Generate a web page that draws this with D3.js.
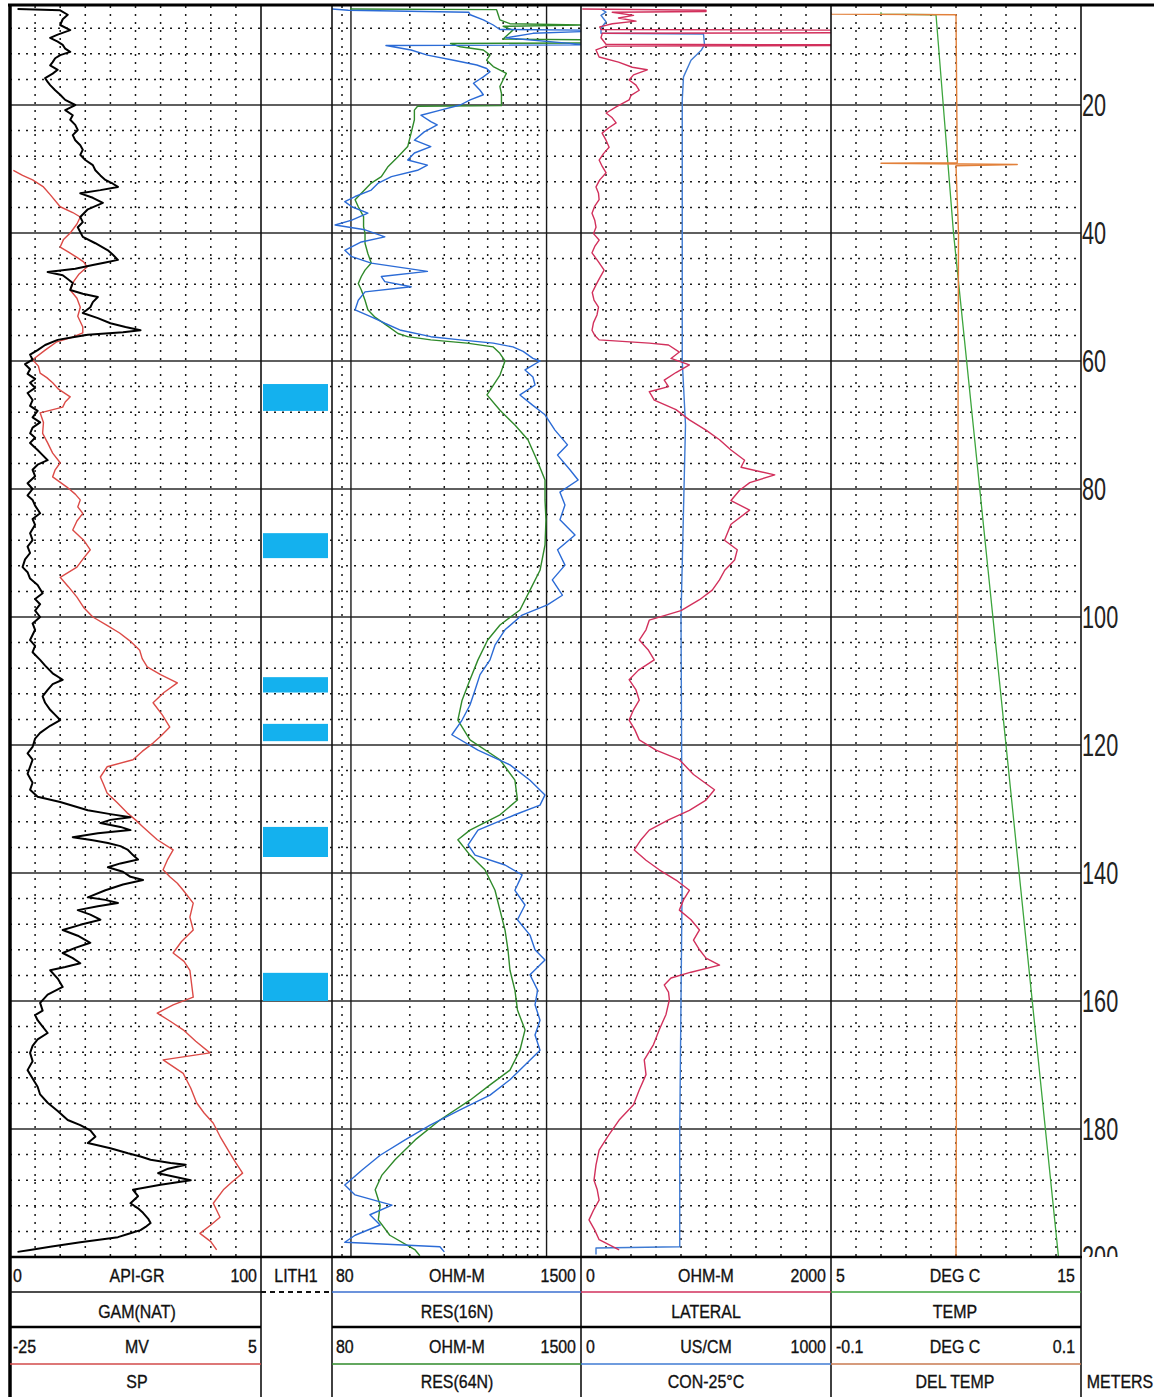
<!DOCTYPE html>
<html><head><meta charset="utf-8">
<script src="https://cdn.jsdelivr.net/npm/d3@7"></script>
<style>body{margin:0;background:#fff}svg{display:block}</style>
</head><body><svg id="c" width="1154" height="1397"></svg>
<script>
// ---------------- DATA ----------------
const depthLabels = [20,40,60,80,100,120,140,160,180,200];
const lithIntervals = [[63.6,67.8],[86.9,90.8],[109.4,111.8],[116.7,119.4],[132.8,137.5],[155.6,160.0]];

const grData = [[5.0,3],[5.2,20],[5.9,23],[6.6,21],[7.5,20],[8.3,24],[9.0,19],[9.5,16],[10.1,19],[10.6,21],[11.2,22],[11.7,24],[12.2,20],[12.7,18],[13.3,17],[13.8,16],[14.5,19],[15.1,17],[15.8,14],[16.4,15],[16.9,16],[17.7,18],[18.4,20],[19.2,22],[20,26],[20.4,24],[20.8,22],[21.6,25],[22.3,24],[23.1,26],[23.9,27],[24.7,25],[25.5,26],[26.3,28],[27,29],[27.8,28],[28.6,30],[29.4,33],[30.2,34],[31.0,36],[31.7,38],[32.3,41],[32.8,43],[33.3,36],[33.8,28],[34.5,33],[35.3,37],[36.3,31],[37.5,28],[38.3,29],[39.1,27],[40.6,29],[41.6,34],[42.7,39],[43.4,41],[44.2,43],[44.6,38],[45,33],[45.6,26],[46.1,15],[46.6,21],[47.2,23],[47.8,25],[48.9,24],[49.5,29],[50,35],[50.8,33],[51.6,32],[52.5,29],[53.3,35],[54.1,40],[54.7,46],[55.2,52],[55.5,45],[55.9,31],[56.3,25],[56.7,19],[57.5,14],[58.3,11],[59.0,8],[59.8,9],[60.5,6],[61.3,8],[62.0,7],[62.8,10],[63.4,8],[64.2,10],[65.0,7],[66.1,9],[67.0,8],[67.8,11],[68.8,9],[69.6,12],[70.4,9],[71.3,8],[72.0,10],[72.8,8],[73.9,11],[74.7,13],[75.5,15],[76.2,11],[77,9],[78,10],[79.1,7],[80,9],[81,7],[81.7,9],[82.6,10],[83.8,12],[84.7,9],[85.6,10],[86.9,8],[88,9],[89,7],[90,8],[91,6],[92.2,5],[93,7],[94,8],[95,11],[96.3,13],[97.2,10],[98,12],[99,10],[100,12],[101,9],[102,10],[103.6,8],[104.5,10],[105.5,9],[106.7,12],[107.6,14],[108.8,17],[109.8,21],[110.5,17],[111.4,15],[112.4,13],[113.4,14],[114.5,16],[115.3,18],[116.1,20],[117,16],[118.1,12],[119,10],[120.3,9],[121.3,7],[122.3,9],[123.4,8],[124.5,7],[125.9,9],[127,8],[128.1,11],[128.9,20],[129.6,26],[130.2,31],[130.8,40],[131.3,48],[131.7,40],[132.2,36],[132.8,44],[133.3,48],[133.8,35],[134.4,25],[134.9,33],[135.3,39],[135.8,44],[136.4,47],[137.2,49],[137.9,51],[138.5,44],[139.1,39],[139.8,45],[140.6,48],[141.1,53],[141.8,45],[142.7,38],[143.8,31],[144.2,38],[144.7,43],[145.2,35],[145.8,27],[146.5,32],[147.3,36],[148.1,28],[148.9,21],[149.8,27],[150.9,32],[151.7,26],[152.5,21],[153.3,25],[154.1,28],[154.7,22],[155.2,16],[156.5,19],[157.8,21],[159,15],[160.3,12],[161.5,13],[162.2,10],[163,11],[164,13],[165,15],[166,11],[167,9],[168.1,8],[169.4,9],[170.8,7],[172.1,9],[173.4,11],[174.6,12],[175.9,15],[177.2,19],[178.6,23],[179.4,28],[180.2,32],[181.2,34],[182.2,31],[183,40],[183.8,47],[184.3,52],[184.8,56],[185.3,64],[185.6,70],[186.2,63],[186.9,59],[187.5,66],[188,72],[188.7,60],[189.5,49],[190.5,51],[191.6,48],[192.4,51],[193.1,53],[194,55],[194.7,56],[195.3,54],[195.8,52],[196.4,47],[196.9,43],[197.7,28],[198.4,16],[198.9,8],[199.2,3]];

const spData = [[30.2,-24.6],[31.0,-23.5],[31.7,-22.3],[32.8,-21.0],[34.0,-20.2],[35.9,-19.0],[36.8,-17.5],[37.5,-16.6],[38.6,-17.0],[40,-17.8],[41.0,-18.6],[42.2,-19.0],[43.0,-18.0],[43.8,-17.0],[44.5,-16.2],[45.3,-15.8],[46.5,-16.8],[47.6,-17.4],[48.9,-17.8],[50.2,-17.0],[51.6,-16.6],[53.0,-16.9],[54.7,-16.3],[55.6,-16.3],[56.3,-17.6],[57,-19.4],[58.3,-20.8],[59.8,-22.3],[60.8,-21.6],[61.9,-21.4],[62.6,-20.6],[63.4,-19.9],[64.4,-19.2],[65.6,-17.8],[66.4,-18.4],[67.2,-18.7],[68.1,-21.4],[69.6,-21.0],[71.3,-21.1],[72.8,-20.5],[74.4,-19.9],[75.9,-19.0],[77.0,-19.6],[78.1,-19.9],[79.7,-18.2],[80.8,-17.2],[81.7,-16.6],[82.8,-16.9],[83.8,-16.3],[85.0,-17.0],[86.4,-17.5],[88.0,-16.2],[89.5,-15.4],[90.8,-16.2],[92.2,-17.0],[93.8,-19.0],[95.3,-18.0],[96.9,-17.0],[98.5,-16.2],[100,-15.1],[101.3,-13.4],[102.5,-11.9],[103.8,-10.6],[105.2,-9.5],[106.5,-9.2],[107.8,-8.6],[109.0,-7.0],[110.3,-5.0],[111.8,-6.6],[113.4,-7.9],[115.3,-6.8],[117.2,-5.9],[118.5,-6.9],[119.7,-7.9],[121.0,-9.2],[122.3,-10.3],[123.4,-13.4],[125,-14.2],[126.2,-13.8],[127.5,-13.4],[129.0,-12.2],[130.6,-11.0],[131.7,-10.0],[132.8,-9.1],[134.8,-7.4],[136.4,-5.5],[138.0,-6.2],[139.5,-6.7],[140.6,-5.9],[141.6,-5.0],[142.7,-4.3],[144.7,-3.1],[146.9,-3.5],[148.9,-3.1],[150.7,-4.5],[152.5,-5.5],[153.8,-4.2],[155.2,-3.5],[157.3,-3.3],[159.4,-3.1],[160.6,-5.5],[161.9,-7.4],[163.2,-5.8],[164.5,-4.3],[166.3,-2.8],[168.1,-1.1],[169.2,-6.7],[171.3,-4.3],[173.6,-3.4],[175.9,-2.7],[177.5,-1.8],[179.1,-0.7],[181.4,0.2],[183.8,1.3],[185.3,2.0],[186.9,2.8],[188.2,1.6],[189.5,0.5],[191.6,-0.7],[193.8,0.1],[195.0,-1.0],[196.3,-2.3],[197.6,-1.0],[198.9,-0.3]];

const res16Data = [[5.0,80],[5.2,97],[5.5,400],[5.9,407],[6.7,475],[7.5,534],[8.2,577],[8.3,1600],[8.5,1600],[8.8,852],[9.5,620],[10.6,1600],[10.7,151],[11.4,203],[12.2,246],[13.0,335],[13.75,440],[14.3,494],[14.8,514],[15.6,475],[16.6,423],[17.7,457],[18.4,475],[19.2,407],[20,362],[20.8,287],[21.6,228],[22.6,256],[23.1,276],[24.2,237],[25.5,211],[26.5,256],[27.5,211],[28.6,195],[29.4,246],[30.2,219],[31.2,161],[32.2,138],[33.3,127],[34.3,105],[35.1,93],[35.9,101],[36.9,122],[38,101],[38.75,83],[39.5,118],[40.6,149],[41.4,113],[42.7,93],[43.7,101],[44.7,127],[46.0,246],[46.8,143],[47.6,149],[48.4,203],[49.2,118],[50.5,109],[52,105],[53.1,127],[54.1,149],[55.2,180],[56.2,256],[56.7,362],[57.2,534],[57.8,673],[58.5,759],[59.6,852],[60,926],[61.4,776],[62.5,852],[63.75,873],[65.3,731],[66.9,848],[68.4,982],[70.8,1104],[73.1,1280],[74.7,1138],[77,1317],[78.6,1450],[80.5,1171],[82.5,1242],[84.8,1171],[87.2,1398],[89.5,1138],[91.9,1242],[94.2,1070],[96.6,1205],[98.1,1010],[99.7,750],[102,613],[104.4,545],[106.7,514],[109,457],[111.4,431],[113.75,406],[116.1,370],[118.4,328],[120.8,446],[123.1,650],[125.5,823],[127.8,982],[129.4,926],[130.9,689],[133.3,446],[135.6,397],[137.2,431],[138.75,613],[140.3,750],[142.7,689],[145,776],[147.3,710],[149.7,823],[152,873],[153.6,982],[155.9,823],[158.3,900],[160.6,873],[163,926],[165.3,873],[167.7,926],[170,776],[172.3,650],[174.7,514],[177,361],[179.4,254],[181.7,189],[184.1,141],[186.4,114],[188.75,93],[190.3,105],[191.9,162],[193.4,125],[195,141],[196.6,105],[197.7,93],[198.4,285],[199.2,300]];

const res64Data = [[5.0,99],[5.1,555],[5.9,566],[6.7,577],[7.3,650],[7.5,1600],[7.7,600],[8.3,673],[9.7,600],[9.8,1600],[10.3,1600],[10.4,323],[10.9,362],[11.4,475],[12.2,514],[13.0,494],[14.0,534],[15.05,623],[16.1,599],[17.1,577],[18.2,588],[19.2,588],[20.1,588],[20.2,219],[20.8,211],[22.3,211],[24.4,203],[26.5,195],[28.1,174],[29.6,155],[31.2,143],[32.2,127],[33.8,113],[34.8,105],[35.9,109],[37.45,116],[39,116],[40.05,118],[41.6,118],[43.2,122],[44.7,127],[45.8,118],[46.8,113],[47.9,109],[48.9,113],[50.5,118],[52,122],[53.1,132],[54.6,155],[55.7,174],[56.2,195],[56.7,256],[57.2,392],[57.8,534],[58.8,577],[60,613],[62.2,578],[65.3,496],[67.7,578],[70,689],[72.3,803],[75.5,894],[78.6,982],[81.7,982],[84.8,993],[88.75,982],[92.7,926],[95.8,823],[98.9,731],[101.25,578],[103.6,500],[106.7,446],[109.8,406],[113,370],[116.1,352],[119.2,406],[122.3,578],[125.5,689],[128.6,710],[130.9,578],[133.3,406],[134.8,352],[137.2,406],[139.5,484],[142.7,545],[145.8,578],[148.9,613],[152,635],[155.2,650],[158.3,689],[161.4,710],[164.5,776],[167.7,731],[170.8,650],[173.1,514],[175.5,406],[178.6,285],[181.7,213],[184.8,168],[187.2,144],[189.5,133],[191.9,141],[194.2,138],[196.6,158],[198.9,213],[199.8,225]];

const lateralData = [[5.0,10],[5.2,1000],[5.4,1000],[5.5,250],[6.0,420],[6.4,300],[6.9,440],[7.3,250],[7.8,150],[8.2,160],[8.3,2100],[8.7,2100],[8.75,1380],[8.8,170],[9.5,160],[10.5,200],[10.6,2100],[10.7,2100],[10.8,200],[11.4,120],[12.5,145],[13.3,300],[14.1,410],[14.5,530],[15.3,420],[16.1,385],[16.9,440],[17.7,466],[18.5,400],[19.2,385],[20.3,281],[21.25,201],[22.0,250],[22.8,281],[23.6,220],[24.4,169],[25.5,200],[26.6,225],[27.6,180],[28.6,145],[29.6,170],[30.6,201],[31.7,150],[32.8,120],[33.8,140],[34.8,145],[35.8,110],[36.9,88],[38.0,110],[39.1,120],[40.1,100],[41.1,145],[42.1,110],[43.1,88],[44.5,140],[45.8,185],[47.0,150],[48.1,120],[49.3,90],[50.5,104],[51.6,140],[52.8,128],[54.0,100],[55.2,88],[56.0,110],[56.7,145],[57.2,546],[57.5,700],[58.6,787],[59.6,720],[60.6,867],[61.8,760],[63,666],[64.0,700],[64.8,546],[66.1,586],[67.6,760],[69.2,867],[70.8,1000],[72.3,1108],[73.9,1200],[75.5,1309],[76.6,1280],[77.8,1550],[79.0,1350],[80.2,1269],[81.8,1200],[83.3,1349],[85.5,1200],[88,1148],[89.5,1250],[91.1,1229],[92.7,1150],[94.2,1108],[95.8,1050],[97.3,948],[99.0,800],[100.5,546],[102.0,520],[103.6,466],[105.2,540],[106.7,586],[108.3,460],[109.8,385],[111.4,440],[113,466],[114.5,420],[116.1,385],[117.6,430],[119.2,466],[120.8,600],[122.3,787],[124.6,900],[127,1068],[128.6,1000],[130.2,867],[131.7,700],[133.3,546],[134.8,480],[136.4,426],[138.0,520],[139.5,626],[141.1,760],[142.7,867],[144.2,820],[145.8,787],[147.3,880],[148.9,948],[150.5,900],[152,948],[153.3,1000],[154.4,1108],[155.5,880],[156.4,720],[157.5,666],[158.6,700],[159.8,707],[162.1,680],[164.5,626],[166.8,580],[169.2,506],[171.5,520],[173.9,466],[176.2,420],[178.6,305],[181.0,220],[183.3,145],[185.6,120],[188,104],[189.5,130],[191.1,145],[192.7,100],[194.2,64],[195.8,110],[197.3,145],[198.9,305]];

const conData = [[5.0,80],[5.5,100],[6.0,80],[7.0,100],[8.0,80],[8.8,80],[8.9,490],[10.6,494],[11.5,480],[13.0,440],[15.6,410],[19.2,405],[60,405],[70,418],[100,400],[140,405],[180,395],[198.4,395],[198.6,60],[199.6,60]];

const tempData = [[5.5,7.0],[5.8,7.0],[5.9,9.2],[40,9.9],[200,14.1]];
const delTempData = [[5.5,-0.1],[5.8,-0.1],[5.9,0.0],[29.0,0.001],[29.1,-0.06],[29.3,0.049],[29.5,0.0],[40,0.002],[200,0.0]];

const resMinorTicks = [90,200,300,400,500,600,700,800,900];
const resMajorTicks = [100,1000];

// ---------------- LAYOUT ----------------
const svg = d3.select('#c');
const top0 = 6, bot = 1257;
const y = d3.scaleLinear().domain([5,200]).range([9,1257]);
const T = {t1:[10,261], t2:[261,332], t3:[332,581], t4:[581,831], t5:[831,1081]};
const xGR = d3.scaleLinear().domain([0,100]).range(T.t1);
const xSP = d3.scaleLinear().domain([-25,5]).range(T.t1);
const xRES = d3.scaleLog().domain([80,1500]).range(T.t3);
const xLAT = d3.scaleLinear().domain([0,2000]).range(T.t4);
const xCON = d3.scaleLinear().domain([0,1000]).range(T.t4);
const xT = d3.scaleLinear().domain([5,15]).range(T.t5);
const xDT = d3.scaleLinear().domain([-0.1,0.1]).range(T.t5);

const defs = svg.append('defs');
Object.entries(T).forEach(([k,[a,b]])=>{
  defs.append('clipPath').attr('id','clip-'+k).append('rect').attr('x',a).attr('y',top0).attr('width',b-a).attr('height',bot-top0);
});
defs.append('clipPath').attr('id','clip-depth').append('rect').attr('x',1082).attr('y',0).attr('width',80).attr('height',bot);

const DOT = '2,6';
const grid = svg.append('g');
const minor = d3.range(8,200,4).filter(d=>d%20!==0);
const major = d3.range(20,200,20);
grid.selectAll('.hm').data(minor).join('line').attr('x1',10).attr('x2',1081)
  .attr('y1',d=>y(d)).attr('y2',d=>y(d)).attr('stroke','#1a1a1a').attr('stroke-width',1.5).attr('stroke-dasharray',DOT);
grid.selectAll('.hM').data(major).join('line').attr('x1',10).attr('x2',1081)
  .attr('y1',d=>y(d)).attr('y2',d=>y(d)).attr('stroke','#2a2a2a').attr('stroke-width',1.6);
function vgrid(vals, sc, dash, w){
  grid.selectAll(null).data(vals).join('line').attr('x1',d=>sc(d)).attr('x2',d=>sc(d))
    .attr('y1',top0).attr('y2',bot).attr('stroke','#1a1a1a').attr('stroke-width',w).attr('stroke-dasharray',dash);
}
vgrid(xGR.ticks(10).slice(1,-1), xGR, DOT, 1.5);
vgrid(xLAT.ticks(10).slice(1,-1), xLAT, DOT, 1.5);
vgrid(xT.ticks(10).slice(1,-1), xT, DOT, 1.5);
vgrid(resMinorTicks, xRES, DOT, 1.5);
vgrid(resMajorTicks, xRES, null, 1.4);

svg.append('g').attr('clip-path','url(#clip-t2)').selectAll('rect').data(lithIntervals).join('rect')
  .attr('x',T.t2[0]+2).attr('width',T.t2[1]-T.t2[0]-6)
  .attr('y',d=>y(d[0])).attr('height',d=>y(d[1])-y(d[0])).attr('fill','#14b1ee');

function curve(data, sc, track, color, w){
  const line = d3.line().x(d=>sc(d[1])).y(d=>y(d[0]));
  svg.append('path').datum(data).attr('d',line).attr('clip-path',`url(#clip-${track})`)
    .attr('fill','none').attr('stroke',color).attr('stroke-width',w).attr('stroke-linejoin','round');
}
curve(spData, xSP, 't1', '#dc4a46', 1.4);
curve(grData, xGR, 't1', '#000', 2.0);
curve(res64Data, xRES, 't3', '#2f8a2a', 1.4);
curve(res16Data, xRES, 't3', '#2b6bd6', 1.4);
curve(conData, xCON, 't4', '#3f7bd3', 1.4);
curve(lateralData, xLAT, 't4', '#d2305c', 1.4);
curve(tempData, xT, 't5', '#3da53d', 1.3);
curve(delTempData, xDT, 't5', '#e2803a', 1.4);

const B = svg.append('g');
[T.t1[1], T.t2[1], T.t3[1], T.t4[1], T.t5[1]].forEach(x=>{
  B.append('line').attr('x1',x).attr('x2',x).attr('y1',top0).attr('y2',1397).attr('stroke','#111').attr('stroke-width',1.6);
});
B.append('line').attr('x1',10).attr('x2',10).attr('y1',4).attr('y2',1397).attr('stroke','#000').attr('stroke-width',3.5);
B.append('line').attr('x1',8).attr('x2',1154).attr('y1',5).attr('y2',5).attr('stroke','#000').attr('stroke-width',3);
B.append('line').attr('x1',10).attr('x2',1082).attr('y1',bot).attr('y2',bot).attr('stroke','#000').attr('stroke-width',2.5);

const dl = svg.append('g').attr('clip-path','url(#clip-depth)');
depthLabels.forEach(d=>{
  dl.append('text').attr('transform',`translate(1082,${y(d)+11}) scale(0.7,1)`)
    .style('font-family','"Liberation Sans", Arial, sans-serif').style('font-size','31px').attr('fill','#222').text(d);
});

const H = svg.append('g');
function hline(x1,x2,yy,color,w,dash){
  H.append('line').attr('x1',x1).attr('x2',x2).attr('y1',yy).attr('y2',yy).attr('stroke',color).attr('stroke-width',w).attr('stroke-dasharray',dash||null);
}
hline(10,261,1292,'#111',1.6); hline(261,332,1292,'#111',1.8,'5,4');
hline(332,581,1292,'#3b6fd0',1.6); hline(581,831,1292,'#d2305c',1.6); hline(831,1081,1292,'#3da53d',1.6);
hline(10,261,1327,'#000',2.6); hline(332,1081,1327,'#000',2.6);
hline(10,261,1364,'#d24a4a',1.6); hline(332,581,1364,'#2f8a2a',1.6); hline(581,831,1364,'#3f7bd3',1.6); hline(831,1081,1364,'#c87a50',1.6);

function label(x,yy,str,anchor){
  H.append('text').attr('transform',`translate(${x},${yy}) scale(0.84,1)`).attr('text-anchor',anchor)
    .style('font-family','"Liberation Sans", Arial, sans-serif').style('font-size','19px')
    .attr('fill','#111').attr('stroke','#111').attr('stroke-width',0.35).text(str);
}
const headerRows = [
  {yy:1282, items:[[13,'0','start'],[137,'API-GR','middle'],[257,'100','end'],[296,'LITH1','middle'],[336,'80','start'],[457,'OHM-M','middle'],[576,'1500','end'],[586,'0','start'],[706,'OHM-M','middle'],[826,'2000','end'],[836,'5','start'],[955,'DEG C','middle'],[1075,'15','end']]},
  {yy:1318, items:[[137,'GAM(NAT)','middle'],[457,'RES(16N)','middle'],[706,'LATERAL','middle'],[955,'TEMP','middle']]},
  {yy:1353, items:[[13,'-25','start'],[137,'MV','middle'],[257,'5','end'],[336,'80','start'],[457,'OHM-M','middle'],[576,'1500','end'],[586,'0','start'],[706,'US/CM','middle'],[826,'1000','end'],[836,'-0.1','start'],[955,'DEG C','middle'],[1075,'0.1','end']]},
  {yy:1388, items:[[137,'SP','middle'],[457,'RES(64N)','middle'],[706,'CON-25°C','middle'],[955,'DEL TEMP','middle'],[1120,'METERS','middle']]}
];
headerRows.forEach(r=>r.items.forEach(([x,s,a])=>label(x,r.yy,s,a)));
</script></body></html>
